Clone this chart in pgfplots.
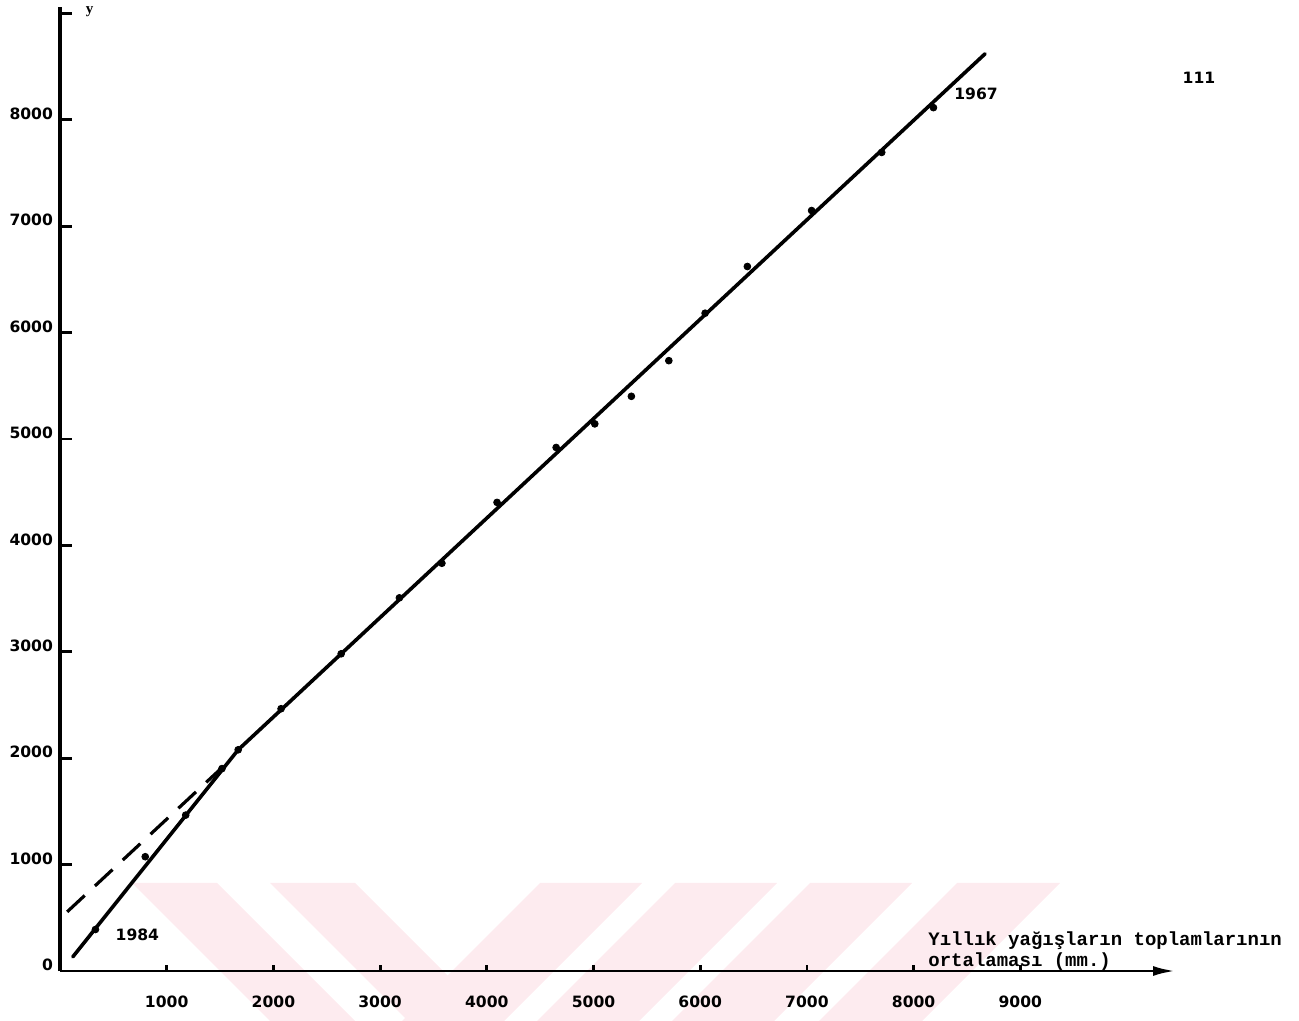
\documentclass[border=0pt]{standalone}
\usepackage{fontspec}
\usepackage{pgfplots}
\pgfplotsset{compat=1.18}
\usetikzlibrary{arrows.meta}
\newfontfamily\tickfont{DejaVu Sans}
\newfontfamily\labelfont{Liberation Mono}
\newfontfamily\letterfont{Liberation Serif}
\definecolor{wm}{RGB}{253,235,239}
\newcommand{\tf}{\tickfont\bfseries\fontsize{7.8}{9}\selectfont}

\begin{document}
\begin{tikzpicture}
\path[use as bounding box] (-30pt,-25pt) rectangle (619.5pt,485.5pt);
% pale watermark stripes
\fill[wm] (36pt,44pt) -- (78.5pt,44pt) -- (147.5pt,-25pt) -- (105pt,-25pt) -- cycle;
\fill[wm] (105pt,44pt) -- (147.5pt,44pt) -- (216.5pt,-25pt) -- (174pt,-25pt) -- cycle;
\fill[wm] (240pt,44pt) -- (291pt,44pt) -- (222pt,-25pt) -- (171pt,-25pt) -- cycle;
\fill[wm] (307.5pt,44pt) -- (358.5pt,44pt) -- (289.5pt,-25pt) -- (238.5pt,-25pt) -- cycle;
\fill[wm] (375pt,44pt) -- (426pt,44pt) -- (357pt,-25pt) -- (306pt,-25pt) -- cycle;
\fill[wm] (448.5pt,44pt) -- (500pt,44pt) -- (431pt,-25pt) -- (379.5pt,-25pt) -- cycle;

\begin{axis}[
  at={(0pt,0pt)}, anchor=south west,
  scale only axis, width=557.5pt, height=482pt,
  xmin=0, xmax=10450, ymin=0, ymax=9060,
  axis x line=bottom, axis y line=left,
  x axis line style={line width=1.4pt, -{Latex[length=11pt,width=5pt]}},
  y axis line style={line width=1.9pt, -},
  tick align=inside,
  major tick length=6pt,
  tick style={line width=1.4pt, black},
  xtick=\empty,
  extra x ticks={1000,2000,3000,4000,5000,6000,7000,8000,9000},
  extra x tick labels={1000,2000,3000,4000,5000,6000,7000,8000,9000},
  extra x tick style={major tick length=3pt},
  ytick={0,1000,2000,3000,4000,5000,6000,7000,8000,9000},
  yticklabels={0,1000,2000,3000,4000,5000,6000,7000,8000,{}},
  ticklabel style={font=\tf},
  xticklabel style={anchor=center, yshift=-15.5pt},
  yticklabel style={anchor=east, xshift=0pt, yshift=3pt},
  clip=false,
]
\addplot[black, line width=1.8pt, line join=round, line cap=round] coordinates {(120,133) (1670,2079) (8670,8620)};
\addplot[black, line width=1.6pt, dash pattern=on 12pt off 7pt] coordinates {(67,556) (1560,1950)};
\addplot[only marks, mark=*, mark size=1.7pt, black] coordinates {
(332,390) (799,1074) (1178,1465) (1518,1902) (1670,2079) (2072,2465)
(2635,2981) (3181,3507) (3579,3832) (4096,4404) (4650,4920) (5012,5142)
(5355,5401) (5706,5736) (6046,6182) (6442,6621) (7044,7147) (7701,7693)
(8186,8114)};
\node[font=\tf] at (axis cs:725,343) {1984};
\node[font=\tf] at (axis cs:8585,8240) {1967};
\end{axis}
\node[font=\letterfont\bfseries\fontsize{7.5}{8}\selectfont] at (14.75pt,479.5pt) {y};
\node[font=\tf] at (569.5pt,446.5pt) {111};
\node[font=\labelfont\bfseries\fontsize{9.5}{11}\selectfont, anchor=base west, inner sep=0pt] at (434pt,12.5pt) {Yıllık yağışların toplamlarının};
\node[font=\labelfont\bfseries\fontsize{9.5}{11}\selectfont, anchor=base west, inner sep=0pt] at (434pt,2pt) {ortalaması (mm.)};
\end{tikzpicture}
\end{document}
